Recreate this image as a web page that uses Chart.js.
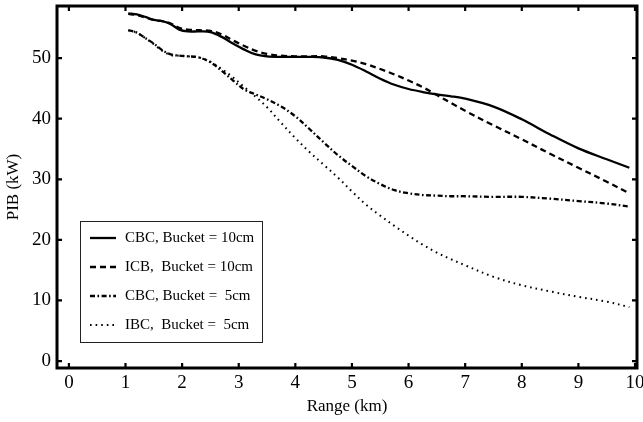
<!DOCTYPE html>
<html>
<head>
<meta charset="utf-8">
<script src="https://cdn.jsdelivr.net/npm/chart.js@4"></script>
<style>
  html, body { margin: 0; padding: 0; background: #fff; }
  canvas { display: block; }
</style>
</head>
<body>
<canvas id="pib" width="643" height="422"></canvas>
<script>
// range samples (km) shared by all four curves
const ranges = [1.05, 1.2, 1.35, 1.5, 1.65, 1.8, 1.95, 2.1, 2.3, 2.5, 2.7, 2.9, 3.1, 3.3, 3.5, 3.75,
    4.0, 4.25, 4.5, 4.75, 5.0, 5.25, 5.5, 5.75, 6.0, 6.25, 6.5, 6.75, 7.0, 7.5, 8.0, 8.5, 9.0, 9.5, 9.9];

const cbc10 = [57.4, 57.2, 56.8, 56.3, 56.1, 55.6, 54.7, 54.4, 54.4, 54.3, 53.5, 52.4, 51.4, 50.6, 50.3, 50.2,
    50.2, 50.2, 50.1, 49.7, 48.9, 47.8, 46.6, 45.6, 44.9, 44.4, 44.0, 43.7, 43.3, 42.0, 39.9, 37.4, 35.1, 33.3, 31.9];
const icb10 = [57.3, 57.1, 56.7, 56.3, 56.1, 55.7, 55.0, 54.7, 54.6, 54.5, 53.9, 52.9, 52.0, 51.2, 50.7, 50.4,
    50.3, 50.3, 50.3, 50.0, 49.6, 49.0, 48.2, 47.3, 46.3, 45.2, 43.9, 42.6, 41.3, 38.9, 36.6, 34.2, 31.9, 29.6, 27.7];
const cbc5 = [54.6, 54.2, 53.3, 52.4, 51.3, 50.6, 50.4, 50.3, 50.1, 49.3, 47.9, 46.3, 44.8, 44.0, 43.2, 42.0,
    40.4, 38.3, 36.1, 34.0, 32.2, 30.5, 29.2, 28.2, 27.7, 27.4, 27.3, 27.2, 27.2, 27.1, 27.1, 26.8, 26.4, 26.0, 25.5];
const ibc5 = [54.6, 54.2, 53.3, 52.3, 51.2, 50.5, 50.4, 50.3, 50.1, 49.4, 48.2, 46.8, 45.2, 43.6, 41.9, 39.3,
    36.8, 34.5, 32.4, 30.3, 28.0, 25.8, 24.0, 22.3, 20.7, 19.2, 17.9, 16.8, 15.8, 13.9, 12.5, 11.5, 10.6, 9.8, 8.9];

const seriesLabels = ['CBC, Bucket = 10cm', 'ICB,  Bucket = 10cm', 'CBC, Bucket =  5cm', 'IBC,  Bucket =  5cm'];
const xTicks = [0, 1, 2, 3, 4, 5, 6, 7, 8, 9, 10];
const yTicks = [0, 10, 20, 30, 40, 50];

const serif = '"Liberation Serif", "Times New Roman", serif';

function toPoints(values) {
    return values.map((v, i) => ({x: ranges[i], y: v}));
}

function makeDataset(label, values, dash, width) {
    return {
        label,
        data: toPoints(values),
        borderColor: '#000',
        borderWidth: width,
        borderDash: dash,
        pointRadius: 0,
        fill: false,
        tension: 0.35
    };
}

// frame with inward ticks on all four sides
const framePlugin = {
    id: 'frame',
    afterDatasetsDraw(chart) {
        const {ctx, chartArea: a, scales} = chart;
        ctx.save();
        ctx.strokeStyle = '#000';
        ctx.lineWidth = 2.2;
        const tick = 5;
        xTicks.forEach(v => {
            const px = scales.x.getPixelForValue(v);
            ctx.beginPath();
            ctx.moveTo(px, a.bottom); ctx.lineTo(px, a.bottom - tick);
            ctx.moveTo(px, a.top); ctx.lineTo(px, a.top + tick);
            ctx.stroke();
        });
        yTicks.forEach(v => {
            const py = scales.y.getPixelForValue(v);
            ctx.beginPath();
            ctx.moveTo(a.left, py); ctx.lineTo(a.left + tick, py);
            ctx.moveTo(a.right, py); ctx.lineTo(a.right - tick, py);
            ctx.stroke();
        });
        ctx.lineWidth = 3;
        ctx.strokeRect(a.left, a.top, a.right - a.left, a.bottom - a.top);
        ctx.restore();
    }
};

// boxed legend in the lower left of the plot
const boxLegendPlugin = {
    id: 'boxLegend',
    afterDraw(chart) {
        const {ctx} = chart;
        const box = {x: 80, y: 221, w: 182, h: 121};
        ctx.save();
        ctx.strokeStyle = '#222';
        ctx.lineWidth = 1;
        ctx.strokeRect(box.x + 0.5, box.y + 0.5, box.w, box.h);
        ctx.font = '15px ' + serif;
        ctx.fillStyle = '#000';
        ctx.textBaseline = 'middle';
        chart.data.datasets.forEach((ds, i) => {
            const y = box.y + 17 + i * 29;
            ctx.beginPath();
            ctx.setLineDash(ds.borderDash || []);
            ctx.lineWidth = ds.borderWidth;
            ctx.strokeStyle = '#000';
            ctx.moveTo(box.x + 10, y);
            ctx.lineTo(box.x + 36, y);
            ctx.stroke();
            ctx.setLineDash([]);
            ctx.fillText(ds.label, box.x + 45, y);
        });
        ctx.restore();
    }
};

new Chart(document.getElementById('pib'), {
    type: 'line',
    data: {
        datasets: [
            makeDataset(seriesLabels[0], cbc10, [], 2.3),
            makeDataset(seriesLabels[1], icb10, [6, 4], 2.3),
            makeDataset(seriesLabels[2], cbc5, [5, 2.5, 1.6, 2.5], 2.3),
            makeDataset(seriesLabels[3], ibc5, [1.6, 4], 2)
        ]
    },
    options: {
        responsive: false,
        animation: false,
        layout: {padding: {top: 6, right: 6, left: 0, bottom: 0}},
        plugins: {legend: {display: false}, tooltip: {enabled: false}},
        scales: {
            x: {
                type: 'linear',
                min: -0.21,
                max: 10.035,
                afterBuildTicks: s => { s.ticks = xTicks.map(v => ({value: v})); },
                afterFit: s => { s.height = 54; s.paddingLeft = 0; s.paddingRight = 0; },
                grid: {display: false, drawTicks: false},
                border: {display: false},
                ticks: {color: '#000', padding: 4, maxRotation: 0, font: {family: serif, size: 19}},
                title: {display: true, text: 'Range (km)', color: '#000', padding: {bottom: 5}, font: {family: serif, size: 17}}
            },
            y: {
                min: -1.15,
                max: 58.6,
                afterBuildTicks: s => { s.ticks = yTicks.map(v => ({value: v})); },
                afterFit: s => { s.width = 57; s.paddingTop = 0; s.paddingBottom = 0; },
                grid: {display: false, drawTicks: false},
                border: {display: false},
                ticks: {color: '#000', padding: 6, font: {family: serif, size: 19}},
                title: {display: true, text: 'PIB (kW)', color: '#000', padding: {top: 3}, font: {family: serif, size: 17}}
            }
        }
    },
    plugins: [framePlugin, boxLegendPlugin]
});
</script>
</body>
</html>
